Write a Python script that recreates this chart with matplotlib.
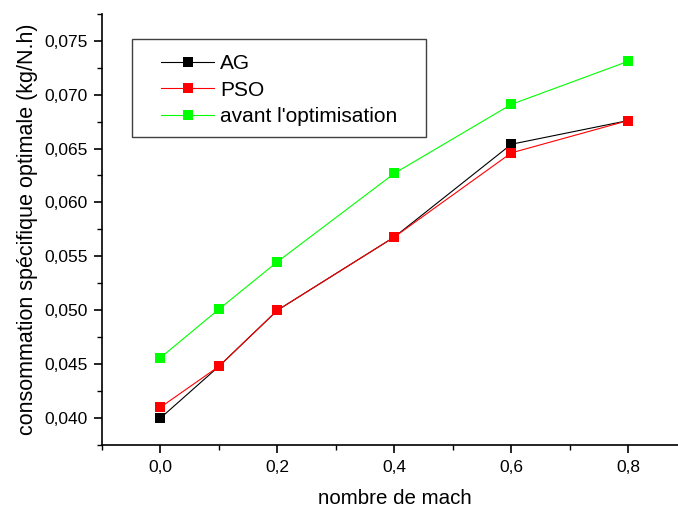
import matplotlib
matplotlib.use('Agg')
import matplotlib.pyplot as plt
from matplotlib.patches import Rectangle
from matplotlib.ticker import MultipleLocator, FuncFormatter

plt.rcParams['font.family'] = ['Liberation Sans', 'DejaVu Sans']

# nombre de mach
mach = [0.0, 0.1, 0.2, 0.4, 0.6, 0.8]

# consommation spécifique optimale (kg/N.h)
ag = [0.0400, 0.0448, 0.0500, 0.0568, 0.0654, 0.0676]
pso = [0.0410, 0.0448, 0.0500, 0.0568, 0.0646, 0.0676]
avant = [0.0456, 0.0501, 0.0545, 0.0627, 0.0691, 0.0731]

series = [
    ('AG', ag, '#000000'),
    ('PSO', pso, '#ff0000'),
    ("avant l'optimisation", avant, '#00ff00'),
]

W, H = 678, 511
fig = plt.figure(figsize=(W / 100, H / 100), dpi=100)
ax = fig.add_axes([102 / W, 1 - 445 / H, (686.8 - 102) / W, (445 - 13.8) / H])

for label, values, color in series:
    ax.plot(mach, values, color=color, lw=0.8, marker='s', markersize=7,
            markeredgewidth=0, label=label)

ax.set_xlim(-0.1, 0.9)
ax.set_ylim(0.0375, 0.0775)

ax.xaxis.set_major_locator(MultipleLocator(0.2))
ax.xaxis.set_minor_locator(MultipleLocator(0.1))
ax.yaxis.set_major_locator(MultipleLocator(0.005))
ax.yaxis.set_minor_locator(MultipleLocator(0.0025))

# decimal comma on the tick labels
ax.xaxis.set_major_formatter(FuncFormatter(lambda v, p: f'{v:.1f}'.replace('.', ',').replace('-', '')))
ax.yaxis.set_major_formatter(FuncFormatter(lambda v, p: f'{v:.3f}'.replace('.', ',')))

for side in ('top', 'right'):
    ax.spines[side].set_visible(False)
for side in ('left', 'bottom'):
    ax.spines[side].set_linewidth(1.2)

ax.tick_params(which='major', direction='out', length=6, width=1.2, labelsize=12.5, pad=4)
ax.tick_params(which='minor', direction='out', length=3.5, width=1.0)
ax.tick_params(axis='x', which='major', pad=5)

ax.set_xlabel('nombre de mach', fontsize=14.8, labelpad=10)
ax.set_ylabel('consommation spécifique optimale (kg/N.h)', fontsize=15.5, labelpad=5)

# legend with a separate square frame
fig.patches.append(Rectangle((132 / W, 1 - 137 / H), (426 - 132) / W, (137 - 39) / H,
                             transform=fig.transFigure, fill=False,
                             edgecolor='#404040', linewidth=1.0))
leg = fig.legend(loc='upper left', bbox_to_anchor=(161 / W, 1 - 54 / H),
                 frameon=False, borderpad=0, borderaxespad=0, fontsize=15,
                 handlelength=2.55, handletextpad=0.3, labelspacing=0.36,
                 numpoints=1)

fig.savefig('out.png', dpi=100)
